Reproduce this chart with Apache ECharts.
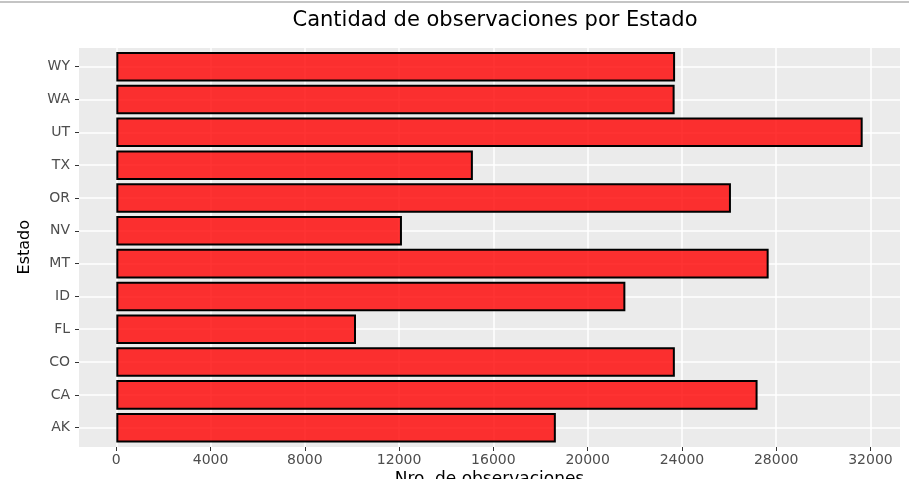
<!DOCTYPE html>
<html>
<head>
<meta charset="utf-8">
<title>Cantidad de observaciones por Estado</title>
<script src="https://cdn.jsdelivr.net/npm/echarts@6/dist/echarts.min.js"></script>
<style>
  html, body { margin: 0; padding: 0; background: #fff; }
  .estadoView {
    width: 909px;
    height: 479px;
    box-sizing: border-box;
    border-top: 2px solid #c4c4c4;
    margin-top: 1px;
  }
</style>
</head>
<body>
<div class="estadoView" id="estadoView"></div>
<script>
// estados, de abajo hacia arriba
const estados = ['AK', 'CA', 'CO', 'FL', 'ID', 'MT', 'NV', 'OR', 'TX', 'UT', 'WA', 'WY']
const observaciones = [18650, 27210, 23700, 10170, 21600, 27680, 12120, 26080, 15130, 31670, 23690, 23710]
const xTicks = [0, 4000, 8000, 12000, 16000, 20000, 24000, 28000, 32000]

// expansion tipo ggplot (5% de cada lado)
const maxObs = Math.max(...observaciones)
const xMin = -maxObs * 0.05
const xMax = maxObs * 1.05

const chart = echarts.init(document.getElementById('estadoView'))
let option
option = {
  animation: false,
  title: {
    text: 'Cantidad de observaciones por Estado',
    left: 490,
    textAlign: 'center',
    top: 2,
    textStyle: {
      fontFamily: 'DejaVu Sans',
      fontWeight: 'normal',
      fontSize: 21,
      color: '#000'
    }
  },
  grid: [
    // panel gris
    { left: 79, right: 9, top: 45, bottom: 33, show: true, backgroundColor: '#EBEBEB', borderWidth: 0, outerBoundsMode: 'none' },
    // barras
    { left: 79, right: 9, top: 47.3, bottom: 35.9, outerBoundsMode: 'none' }
  ],
  xAxis: [
    {
      gridIndex: 0,
      type: 'value',
      min: xMin,
      max: xMax,
      name: 'Nro. de observaciones',
      nameLocation: 'middle',
      nameGap: 24,
      nameMoveOverlap: false,
      nameTextStyle: { fontFamily: 'DejaVu Sans', fontSize: 17, color: '#000' },
      axisLine: { show: false, onZero: false },
      axisTick: { show: true, length: 4, customValues: xTicks, lineStyle: { color: '#333', width: 1 } },
      axisLabel: {
        customValues: xTicks,
        margin: 6,
        fontFamily: 'DejaVu Sans',
        fontSize: 14,
        color: '#4D4D4D',
        formatter: v => String(v)
      },
      splitLine: { show: true, lineStyle: { color: '#fff', width: 1.5 } }
    },
    {
      gridIndex: 1,
      type: 'value',
      min: xMin,
      max: xMax,
      show: false,
      axisLine: { onZero: false },
      splitLine: { show: false }
    }
  ],
  yAxis: [
    {
      gridIndex: 0,
      type: 'value',
      show: false,
      axisLine: { onZero: false },
      splitLine: { show: false }
    },
    {
      gridIndex: 1,
      type: 'category',
      data: estados,
      name: 'Estado',
      nameLocation: 'middle',
      nameGap: 46,
      nameMoveOverlap: false,
      nameTextStyle: { fontFamily: 'DejaVu Sans', fontSize: 16, color: '#000' },
      axisLine: { show: false, onZero: false },
      axisTick: { show: true, alignWithLabel: true, length: 4, lineStyle: { color: '#333', width: 1 } },
      axisLabel: { margin: 9, fontFamily: 'DejaVu Sans', fontSize: 14, color: '#4D4D4D' },
      splitLine: { show: true, interval: 0, alignWithLabel: true, lineStyle: { color: '#fff', width: 1.5 } }
    }
  ],
  series: [
    {
      name: 'Observaciones',
      type: 'bar',
      xAxisIndex: 1,
      yAxisIndex: 1,
      data: observaciones,
      barWidth: '90%',
      itemStyle: {
        color: 'rgba(255, 0, 0, 0.8)',
        borderColor: '#000',
        borderWidth: 2
      }
    }
  ]
}

option && chart.setOption(option)
window.addEventListener('resize', function() {
  chart.resize()
})
</script>
</body>
</html>
